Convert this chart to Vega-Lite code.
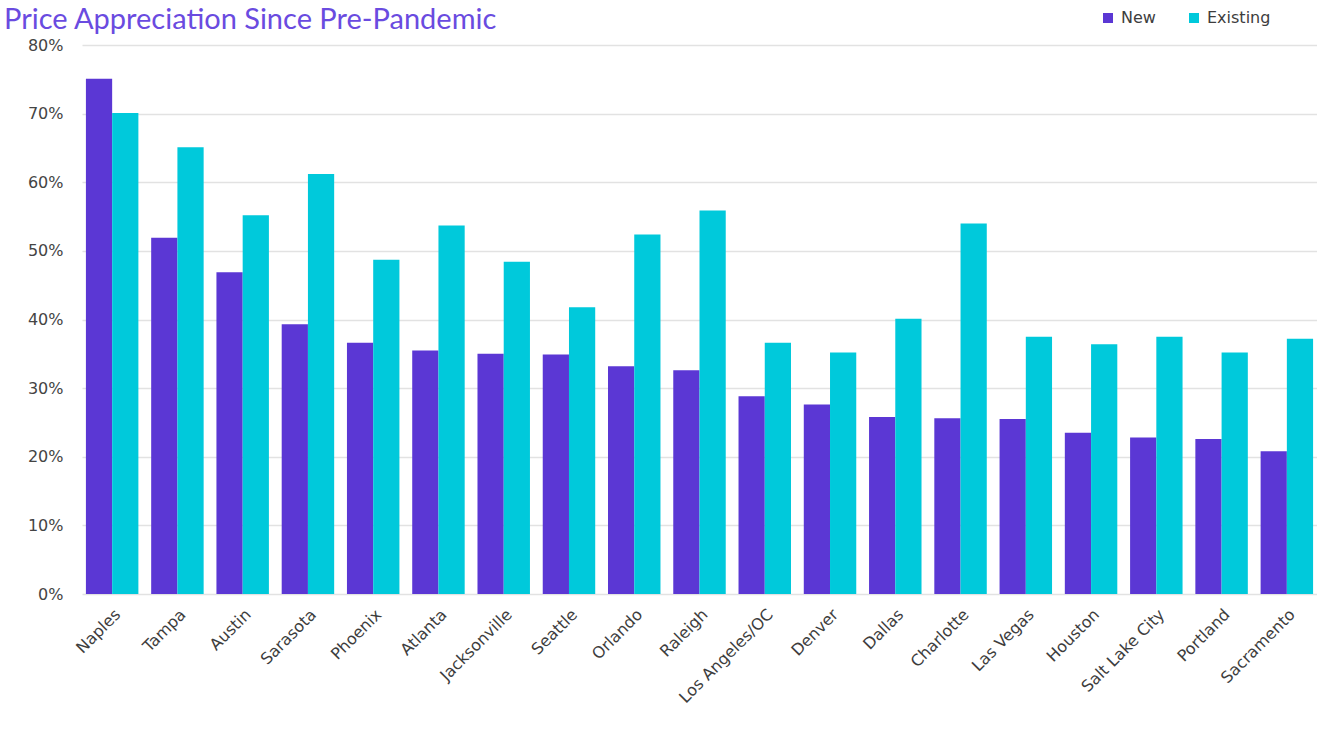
{
  "$schema": "https://vega.github.io/schema/vega-lite/v6.json",
  "width": 1235,
  "height": 549,
  "autosize": {"type": "none"},
  "padding": {"left": 82, "top": 45, "right": 0, "bottom": 136},
  "background": "white",
  "title": {
    "text": "Price Appreciation Since Pre-Pandemic",
    "anchor": "start",
    "frame": "group",
    "dx": -78,
    "offset": -54,
    "baseline": "bottom",
    "fontSize": 29,
    "font": "Lato",
    "fontWeight": "normal",
    "color": "#6a4be0"
  },
  "data": {
    "values": [
      {"city": "Naples", "type": "New", "value": 0.751},
      {"city": "Naples", "type": "Existing", "value": 0.701},
      {"city": "Tampa", "type": "New", "value": 0.519},
      {"city": "Tampa", "type": "Existing", "value": 0.651},
      {"city": "Austin", "type": "New", "value": 0.469},
      {"city": "Austin", "type": "Existing", "value": 0.552},
      {"city": "Sarasota", "type": "New", "value": 0.393},
      {"city": "Sarasota", "type": "Existing", "value": 0.612},
      {"city": "Phoenix", "type": "New", "value": 0.366},
      {"city": "Phoenix", "type": "Existing", "value": 0.487},
      {"city": "Atlanta", "type": "New", "value": 0.355},
      {"city": "Atlanta", "type": "Existing", "value": 0.537},
      {"city": "Jacksonville", "type": "New", "value": 0.35},
      {"city": "Jacksonville", "type": "Existing", "value": 0.484},
      {"city": "Seattle", "type": "New", "value": 0.349},
      {"city": "Seattle", "type": "Existing", "value": 0.418},
      {"city": "Orlando", "type": "New", "value": 0.332},
      {"city": "Orlando", "type": "Existing", "value": 0.524},
      {"city": "Raleigh", "type": "New", "value": 0.326},
      {"city": "Raleigh", "type": "Existing", "value": 0.559},
      {"city": "Los Angeles/OC", "type": "New", "value": 0.288},
      {"city": "Los Angeles/OC", "type": "Existing", "value": 0.366},
      {"city": "Denver", "type": "New", "value": 0.276},
      {"city": "Denver", "type": "Existing", "value": 0.352},
      {"city": "Dallas", "type": "New", "value": 0.258},
      {"city": "Dallas", "type": "Existing", "value": 0.401},
      {"city": "Charlotte", "type": "New", "value": 0.256},
      {"city": "Charlotte", "type": "Existing", "value": 0.54},
      {"city": "Las Vegas", "type": "New", "value": 0.255},
      {"city": "Las Vegas", "type": "Existing", "value": 0.375},
      {"city": "Houston", "type": "New", "value": 0.235},
      {"city": "Houston", "type": "Existing", "value": 0.364},
      {"city": "Salt Lake City", "type": "New", "value": 0.228},
      {"city": "Salt Lake City", "type": "Existing", "value": 0.375},
      {"city": "Portland", "type": "New", "value": 0.226},
      {"city": "Portland", "type": "Existing", "value": 0.352},
      {"city": "Sacramento", "type": "New", "value": 0.208},
      {"city": "Sacramento", "type": "Existing", "value": 0.372}
    ]
  },
  "mark": {"type": "bar"},
  "encoding": {
    "x": {
      "field": "city",
      "type": "nominal",
      "sort": null,
      "scale": {"paddingInner": 0.196, "paddingOuter": 0.06},
      "axis": {
        "title": null,
        "labelAngle": -45,
        "labelFontSize": 16,
        "labelFont": "DejaVu Sans",
        "labelColor": "#3d3d3d",
        "labelPadding": 12,
        "ticks": false,
        "domain": false
      }
    },
    "xOffset": {"field": "type", "sort": ["New", "Existing"], "scale": {"paddingInner": 0}},
    "y": {
      "field": "value",
      "type": "quantitative",
      "scale": {"domain": [0, 0.8]},
      "axis": {
        "title": null,
        "format": ".0%",
        "values": [0, 0.1, 0.2, 0.3, 0.4, 0.5, 0.6, 0.7, 0.8],
        "labelFontSize": 16,
        "labelFont": "DejaVu Sans",
        "labelColor": "#444444",
        "labelPadding": 19,
        "ticks": false,
        "domain": false,
        "gridColor": "#e2e2e2",
        "gridWidth": 1.5
      }
    },
    "color": {
      "field": "type",
      "type": "nominal",
      "sort": ["New", "Existing"],
      "scale": {"domain": ["New", "Existing"], "range": ["#5b37d4", "#00c9db"]},
      "legend": {
        "title": null,
        "orient": "none",
        "direction": "horizontal",
        "legendX": 1018,
        "legendY": -35,
        "symbolType": "square",
        "symbolSize": 100,
        "symbolStrokeWidth": 0,
        "labelFontSize": 16,
        "labelFont": "DejaVu Sans",
        "labelColor": "#3d3d3d",
        "columnPadding": 30,
        "labelOffset": 5
      }
    }
  },
  "config": {"view": {"stroke": null}}
}
